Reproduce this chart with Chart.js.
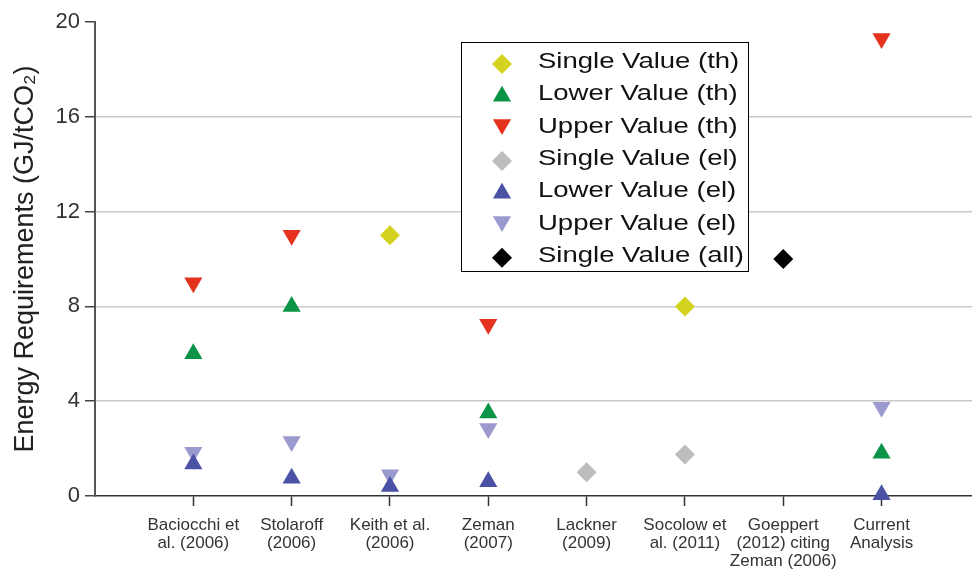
<!DOCTYPE html>
<html>
<head>
<meta charset="utf-8">
<script src="https://cdn.jsdelivr.net/npm/chart.js@4.4.1/dist/chart.umd.min.js"></script>
<style>
  html, body { margin: 0; padding: 0; background: #fff; }
  #wrap { width: 972px; height: 571px; position: relative; }
</style>
</head>
<body>
<div id="wrap"><canvas id="myChart" width="972" height="571"></canvas></div>
<script>
const ctx = document.getElementById('myChart');

// categories (studies) along the x axis
const studies = [
  ['Baciocchi et', 'al. (2006)'],
  ['Stolaroff', '(2006)'],
  ['Keith et al.', '(2006)'],
  ['Zeman', '(2007)'],
  ['Lackner', '(2009)'],
  ['Socolow et', 'al. (2011)'],
  ['Goeppert', '(2012) citing', 'Zeman (2006)'],
  ['Current', 'Analysis']
];

// energy requirements, GJ/tCO2 (null = no value)
const singleTh  = [null, null, 11,   null, null, 8,    null, null];
const lowerTh   = [6,    8,    null, 3.5,  null, null, null, 1.8];
const upperTh   = [9,    11,   null, 7.25, null, null, null, 19.3];
const singleEl  = [null, null, null, null, 1.0,  1.75, null, null];
const lowerEl   = [1.35, 0.75, 0.4,  0.6,  null, null, null, 0.05];
const upperEl   = [1.85, 2.3,  0.9,  2.85, null, null, null, 3.75];
const singleAll = [null, null, null, null, null, null, 10,   null];

const yTicks = [0, 4, 8, 12, 16, 20];

function pts(arr) {
  const out = [];
  arr.forEach((v, i) => { if (v !== null) out.push({ x: i + 1, y: v }); });
  return out;
}

const series = [
  { label: 'Single Value (th)',  data: singleTh,  color: '#d3d31f', style: 'rectRot',  rot: 0 },
  { label: 'Lower Value (th)',   data: lowerTh,   color: '#0b9447', style: 'triangle', rot: 0 },
  { label: 'Upper Value (th)',   data: upperTh,   color: '#e5321f', style: 'triangle', rot: 180 },
  { label: 'Single Value (el)',  data: singleEl,  color: '#bdbdbd', style: 'rectRot',  rot: 0 },
  { label: 'Lower Value (el)',   data: lowerEl,   color: '#4b52a6', style: 'triangle', rot: 0 },
  { label: 'Upper Value (el)',   data: upperEl,   color: '#9a9acf', style: 'triangle', rot: 180 },
  { label: 'Single Value (all)', data: singleAll, color: '#000000', style: 'rectRot',  rot: 0 }
];

const FONT = '"Liberation Sans", Arial, sans-serif';

// legend box drawn inside the plot
const boxLegend = {
  id: 'boxLegend',
  afterDraw(chart) {
    const c = chart.ctx;
    const left = 461, top = 42, right = 748, bottom = 271;
    c.save();
    c.fillStyle = '#fff';
    c.fillRect(left, top, right - left, bottom - top);
    c.strokeStyle = '#000';
    c.lineWidth = 1;
    c.strokeRect(left + 0.5, top + 0.5, right - left, bottom - top);
    c.font = '22px ' + FONT;
    c.textBaseline = 'middle';
    series.forEach((s, i) => {
      const y = 62 + i * 32.3;
      c.fillStyle = s.color;
      c.strokeStyle = s.color;
      Chart.helpers.drawPoint(c, { pointStyle: s.style, radius: s.style === 'rectRot' ? 10 : 10.5, rotation: s.rot, borderWidth: 0 }, 502, s.rot ? y - 2 : y + 2);
      c.fillStyle = '#111';
      c.save();
      c.translate(538, y);
      c.scale(1.25, 1);
      c.fillText(s.label, 0, 0);
      c.restore();
    });
    c.restore();
  }
};

new Chart(ctx, {
  type: 'scatter',
  data: {
    datasets: series.map(s => ({
      label: s.label,
      data: pts(s.data),
      backgroundColor: s.color,
      borderColor: s.color,
      borderWidth: 0,
      pointStyle: s.style,
      rotation: s.rot,
      pointRadius: s.style === 'rectRot' ? 10 : 10.5,
      pointHoverRadius: 10.5,
      clip: false
    }))
  },
  options: {
    responsive: false,
    animation: false,
    layout: { autoPadding: false, padding: { top: 22, right: 0, left: 0, bottom: 0 } },
    plugins: {
      legend: { display: false },
      tooltip: { enabled: false }
    },
    scales: {
      x: {
        type: 'linear',
        min: 0,
        max: 8.92,
        afterBuildTicks: (scale) => { scale.ticks = studies.map((s, i) => ({ value: i + 1 })); },
        afterFit: (scale) => { scale.height = 75; scale.paddingRight = 0; scale.paddingLeft = 0; },
        ticks: {
          autoSkip: false,
          maxRotation: 0,
          padding: 10,
          color: '#333',
          font: { family: FONT, size: 17, lineHeight: 1.06 },
          callback: (v) => studies[v - 1] || ''
        },
        grid: { drawOnChartArea: false, drawTicks: true, tickLength: 10, tickColor: '#333', tickWidth: 1.5 },
        border: { color: '#333', width: 1.5 }
      },
      y: {
        min: 0,
        max: 20,
        afterBuildTicks: (scale) => { scale.ticks = yTicks.map(v => ({ value: v })); },
        afterFit: (scale) => { scale.width = 95; },
        title: {
          display: true,
          text: 'Energy Requirements (GJ/tCO₂)',
          color: '#222',
          font: { family: FONT, size: 27 },
          padding: { top: 9, bottom: 4 }
        },
        ticks: {
          color: '#333',
          padding: 5,
          font: { family: FONT, size: 22 }
        },
        grid: {
          color: (c) => (c.tick && (c.tick.value === 0 || c.tick.value === 20)) ? 'rgba(0,0,0,0)' : '#c9c9c9',
          lineWidth: 1.5,
          tickLength: 10,
          tickColor: '#444',
          tickWidth: 1.5
        },
        border: { color: '#555', width: 2 }
      }
    }
  },
  plugins: [boxLegend]
});
</script>
</body>
</html>
